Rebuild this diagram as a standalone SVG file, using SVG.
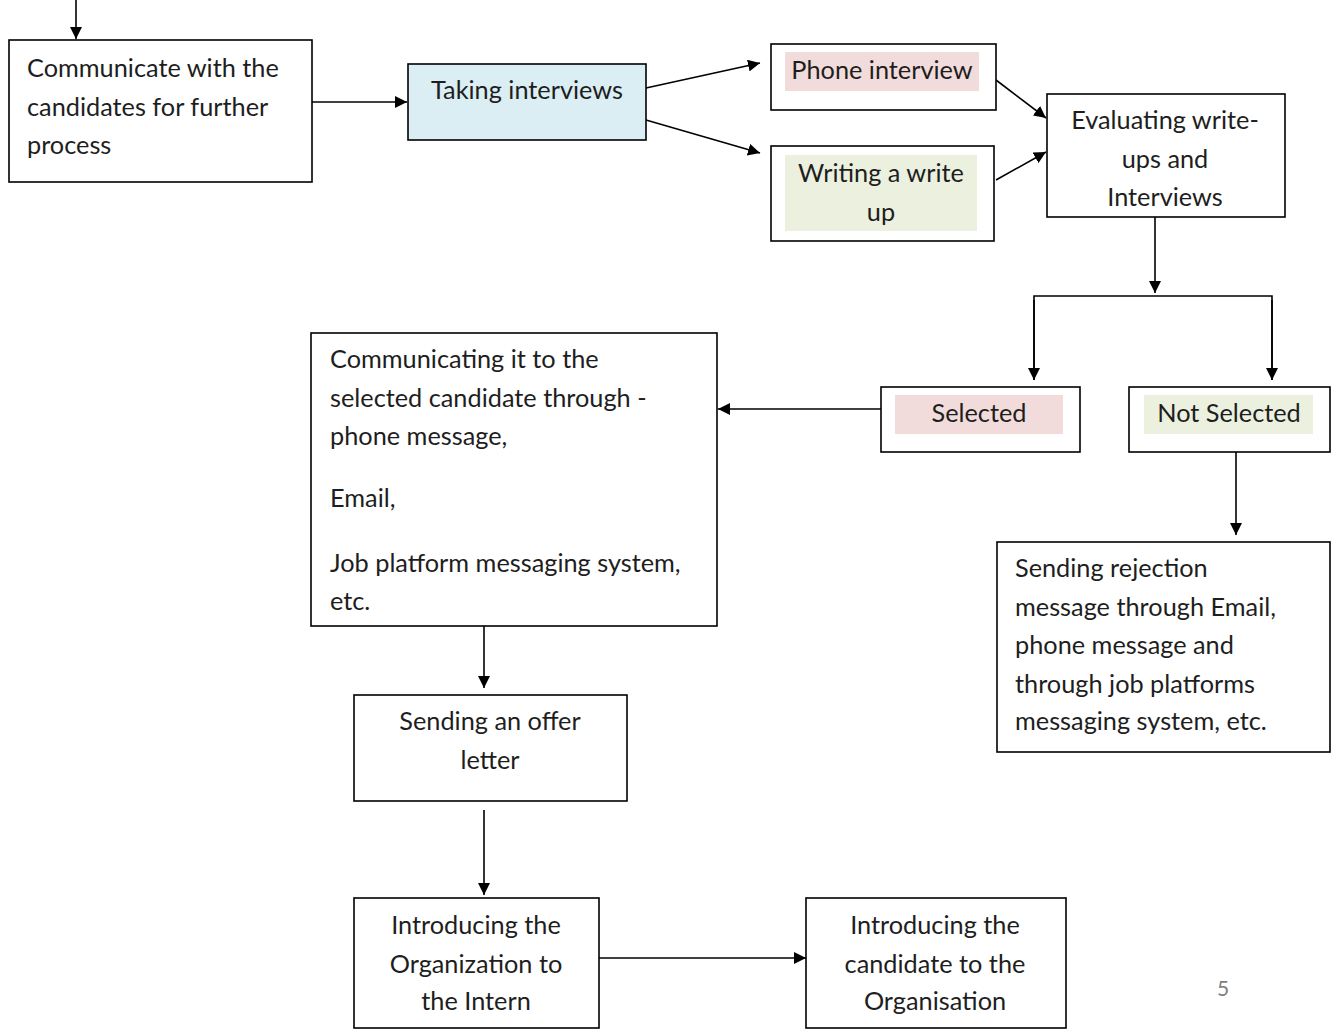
<svg xmlns="http://www.w3.org/2000/svg" width="1336" height="1030" viewBox="0 0 1336 1030">
<defs>
<style>
.box{fill:#fff;stroke:#000;stroke-width:1.6}
.blue{fill:#DAEEF3}
.pink{fill:#F2DCDB}
.green{fill:#EBF1DE}
text{font-family:Lato,"Liberation Sans",sans-serif;font-size:25.3px;fill:#1e1e1e}
.c{text-anchor:middle}
.ln{fill:none;stroke:#000;stroke-width:1.6}
</style>
<marker id="ah" viewBox="0 0 10 10" refX="10" refY="5" markerWidth="12" markerHeight="12" markerUnits="userSpaceOnUse" orient="auto">
<path d="M0,0 L10,5 L0,10 z" fill="#000"/>
</marker>
</defs>
<g id="connectors">
<line class="ln" x1="76" y1="0" x2="76" y2="39" marker-end="url(#ah)"/>
<line class="ln" x1="312" y1="102" x2="407" y2="102" marker-end="url(#ah)"/>
<line class="ln" x1="646" y1="88" x2="760" y2="63" marker-end="url(#ah)"/>
<line class="ln" x1="646" y1="120" x2="760" y2="153" marker-end="url(#ah)"/>
<line class="ln" x1="996" y1="80" x2="1046" y2="118" marker-end="url(#ah)"/>
<line class="ln" x1="996" y1="180" x2="1046" y2="152" marker-end="url(#ah)"/>
<line class="ln" x1="1155" y1="212" x2="1155" y2="293" marker-end="url(#ah)"/>
<polyline class="ln" points="1034,380 1034,296 1272,296 1272,380" />
<line class="ln" x1="1034" y1="300" x2="1034" y2="380" marker-end="url(#ah)"/>
<line class="ln" x1="1272" y1="300" x2="1272" y2="380" marker-end="url(#ah)"/>
<line class="ln" x1="881" y1="409" x2="718" y2="409" marker-end="url(#ah)"/>
<line class="ln" x1="1236" y1="452" x2="1236" y2="535" marker-end="url(#ah)"/>
<line class="ln" x1="484" y1="620" x2="484" y2="688" marker-end="url(#ah)"/>
<line class="ln" x1="484" y1="810" x2="484" y2="895" marker-end="url(#ah)"/>
<line class="ln" x1="599" y1="958" x2="806" y2="958" marker-end="url(#ah)"/>
</g>
<g id="n-communicate">
<rect class="box" x="9" y="40" width="303" height="142"/>
<text x="27" y="77">Communicate with the</text>
<text x="27" y="116">candidates for further</text>
<text x="27" y="154">process</text>
</g>
<g id="n-taking">
<rect class="box blue" x="408" y="64" width="238" height="76"/>
<text class="c" x="527" y="99">Taking interviews</text>
</g>
<g id="n-phone">
<rect class="box" x="771" y="44" width="225" height="66"/>
<rect class="pink" x="785" y="52" width="194" height="39"/>
<text class="c" x="882" y="79">Phone interview</text>
</g>
<g id="n-writing">
<rect class="box" x="771" y="146" width="223" height="95"/>
<rect class="green" x="785" y="155" width="192" height="76"/>
<text class="c" x="881" y="182">Writing a write</text>
<text class="c" x="881" y="221">up</text>
</g>
<g id="n-evaluating">
<rect class="box" x="1047" y="94" width="238" height="123"/>
<text class="c" x="1165" y="129">Evaluating write-</text>
<text class="c" x="1165" y="168">ups and</text>
<text class="c" x="1165" y="206">Interviews</text>
</g>
<g id="n-selected">
<rect class="box" x="881" y="387" width="199" height="65"/>
<rect class="pink" x="895" y="395" width="168" height="39"/>
<text class="c" x="979" y="422">Selected</text>
</g>
<g id="n-notselected">
<rect class="box" x="1129" y="387" width="201" height="65"/>
<rect class="green" x="1144" y="395" width="169" height="39"/>
<text class="c" x="1229" y="422">Not Selected</text>
</g>
<g id="n-communicating">
<rect class="box" x="311" y="333" width="406" height="293"/>
<text x="330" y="368">Communicating it to the</text>
<text x="330" y="407">selected candidate through -</text>
<text x="330" y="445">phone message,</text>
<text x="330" y="507">Email,</text>
<text x="330" y="572">Job platform messaging system,</text>
<text x="330" y="610">etc.</text>
</g>
<g id="n-rejection">
<rect class="box" x="997" y="542" width="333" height="210"/>
<text x="1015" y="577">Sending rejection</text>
<text x="1015" y="616">message through Email,</text>
<text x="1015" y="654">phone message and</text>
<text x="1015" y="693">through job platforms</text>
<text x="1015" y="730">messaging system, etc.</text>
</g>
<g id="n-offer">
<rect class="box" x="354" y="695" width="273" height="106"/>
<text class="c" x="490" y="730">Sending an offer</text>
<text class="c" x="490" y="769">letter</text>
</g>
<g id="n-intro-org">
<rect class="box" x="354" y="898" width="245" height="130"/>
<text class="c" x="476" y="934">Introducing the</text>
<text class="c" x="476" y="973">Organization to</text>
<text class="c" x="476" y="1010">the Intern</text>
</g>
<g id="n-intro-cand">
<rect class="box" x="806" y="898" width="260" height="130"/>
<text class="c" x="935" y="934">Introducing the</text>
<text class="c" x="935" y="973">candidate to the</text>
<text class="c" x="935" y="1010">Organisation</text>
</g>
<text x="1223" y="996" class="c" style="fill:#808080;font-size:21px">5</text>
</svg>
